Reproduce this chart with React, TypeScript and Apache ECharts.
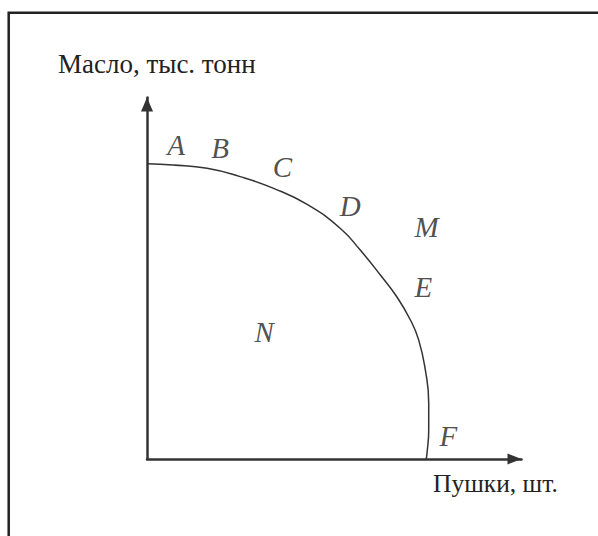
import React, { useEffect, useRef } from "react";
import * as echarts from "echarts";

// Production possibilities curve (guns vs. butter)
const curveX = [0, 9.3, 21.5, 33.3, 45.1, 57.3, 69.2, 76.3, 83.5, 89.5, 94.2, 97.2, 99.6, 100.8, 100.8, 100.2, 99.9];
const curveY = [99.6, 99.2, 98.1, 95.3, 91.4, 85.9, 77.8, 70.5, 62.1, 54.6, 47.0, 40.2, 30.0, 18.9, 9.8, 2.0, 0];

const pointNames = ["A", "B", "C", "D", "M", "E", "N", "F"];
const pointX = [10.4, 26.2, 48.5, 72.7, 100.0, 98.9, 41.9, 107.8];
const pointY = [106.0, 105.0, 98.7, 85.4, 78.3, 57.9, 43.0, 7.8];

const yAxisTitle = "Масло, тыс. тонн";
const xAxisTitle = "Пушки, шт.";

const X_MAX = 134;
const Y_MAX = 122;

export default function App() {
  const ref = useRef<HTMLDivElement>(null);
  useEffect(() => {
    if (!ref.current) return;
    const chart = echarts.init(ref.current, null, { renderer: "svg" });
    const axisColor = "#333";
    const serif = "Liberation Serif";
    chart.setOption({
      animation: false,
      backgroundColor: "#fff",
      grid: { left: 147, right: 76.5, top: 97.5, bottom: 77 },
      xAxis: {
        type: "value",
        min: 0,
        max: X_MAX,
        axisLine: {
          show: true,
          symbol: ["none", "triangle"],
          symbolSize: [11, 14],
          symbolOffset: [0, -7],
          lineStyle: { color: axisColor, width: 2.5 },
        },
        axisTick: { show: false },
        axisLabel: { show: false },
        splitLine: { show: false },
      },
      yAxis: {
        type: "value",
        min: 0,
        max: Y_MAX,
        axisLine: {
          show: true,
          symbol: ["none", "triangle"],
          symbolSize: [12, 14],
          symbolOffset: [0, -7],
          lineStyle: { color: axisColor, width: 2.5 },
        },
        axisTick: { show: false },
        axisLabel: { show: false },
        splitLine: { show: false },
      },
      series: [
        {
          type: "line",
          data: curveX.map((x, i) => [x, curveY[i]]),
          smooth: 0.5,
          showSymbol: false,
          symbol: "none",
          lineStyle: { color: "#333", width: 1.5 },
          z: 3,
        },
        {
          type: "scatter",
          data: pointNames.map((n, i) => ({ name: n, value: [pointX[i], pointY[i]] })),
          symbolSize: 1,
          itemStyle: { color: "rgba(0,0,0,0)" },
          label: {
            show: true,
            position: "inside",
            formatter: (p: any) => p.name,
            fontFamily: serif,
            fontStyle: "italic",
            fontSize: 29,
            color: "#222",
            align: "center",
            verticalAlign: "middle",
          },
        },
      ],
      graphic: [
        {
          type: "rect",
          shape: { x: 8.7, y: 12.8, width: 800, height: 800 },
          style: { fill: "none", stroke: "#222", lineWidth: 2.5 },
          silent: true,
        },
        {
          type: "text",
          x: 58,
          y: 63.5,
          style: {
            text: yAxisTitle,
            fontFamily: serif,
            fontSize: 27,
            fill: "#222",
            textAlign: "left",
            textVerticalAlign: "middle",
          },
        },
        {
          type: "text",
          x: 433,
          y: 483.5,
          style: {
            text: xAxisTitle,
            fontFamily: serif,
            fontSize: 25.5,
            fill: "#222",
            textAlign: "left",
            textVerticalAlign: "middle",
          },
        },
      ],
    });
    return () => chart.dispose();
  }, []);
  return (
    <div
      ref={ref}
      style={{ position: "absolute", left: 0, top: 0, width: 598, height: 536 }}
    />
  );
}
